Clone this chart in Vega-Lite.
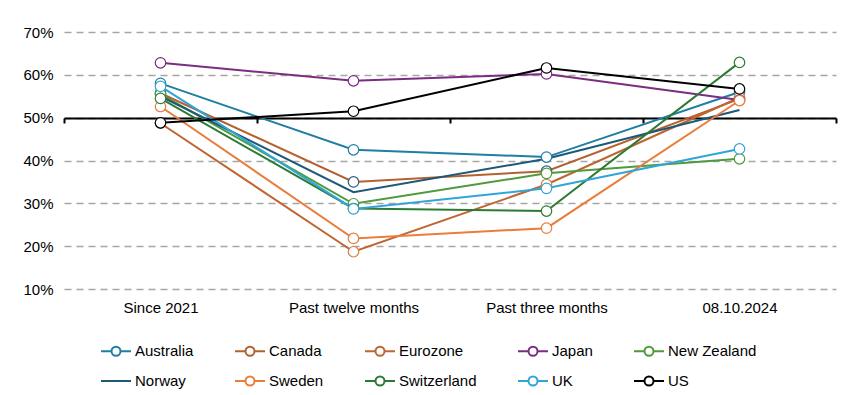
{
  "$schema": "https://vega.github.io/schema/vega-lite/v6.json",
  "width": 772,
  "height": 257,
  "autosize": {"type": "none"},
  "padding": {"left": 64, "top": 32, "right": 18, "bottom": 106},
  "background": "white",
  "config": {
    "view": {"stroke": null},
    "font": "Liberation Sans",
    "axis": {"labelFont": "Liberation Sans", "labelFontSize": 15, "labelColor": "#000000", "title": null},
    "legend": {"labelFont": "Liberation Sans", "labelFontSize": 15, "labelColor": "#000000"}
  },
  "data": {
    "values": [
      {"country": "Australia", "period": "Since 2021", "value": 58.0},
      {"country": "Australia", "period": "Past twelve months", "value": 42.5},
      {"country": "Australia", "period": "Past three months", "value": 40.8},
      {"country": "Australia", "period": "08.10.2024", "value": 56.0},
      {"country": "Canada", "period": "Since 2021", "value": 55.7},
      {"country": "Canada", "period": "Past twelve months", "value": 35.0},
      {"country": "Canada", "period": "Past three months", "value": 37.5},
      {"country": "Canada", "period": "08.10.2024", "value": 54.4},
      {"country": "Eurozone", "period": "Since 2021", "value": 48.7},
      {"country": "Eurozone", "period": "Past twelve months", "value": 18.7},
      {"country": "Eurozone", "period": "Past three months", "value": 34.4},
      {"country": "Eurozone", "period": "08.10.2024", "value": 54.7},
      {"country": "Japan", "period": "Since 2021", "value": 62.8},
      {"country": "Japan", "period": "Past twelve months", "value": 58.6},
      {"country": "Japan", "period": "Past three months", "value": 60.2},
      {"country": "Japan", "period": "08.10.2024", "value": 54.1},
      {"country": "New Zealand", "period": "Since 2021", "value": 55.5},
      {"country": "New Zealand", "period": "Past twelve months", "value": 29.9},
      {"country": "New Zealand", "period": "Past three months", "value": 37.0},
      {"country": "New Zealand", "period": "08.10.2024", "value": 40.4},
      {"country": "Norway", "period": "Since 2021", "value": 55.0},
      {"country": "Norway", "period": "Past twelve months", "value": 32.6},
      {"country": "Norway", "period": "Past three months", "value": 40.4},
      {"country": "Norway", "period": "08.10.2024", "value": 51.8},
      {"country": "Sweden", "period": "Since 2021", "value": 52.6},
      {"country": "Sweden", "period": "Past twelve months", "value": 21.8},
      {"country": "Sweden", "period": "Past three months", "value": 24.2},
      {"country": "Sweden", "period": "08.10.2024", "value": 54.0},
      {"country": "Switzerland", "period": "Since 2021", "value": 54.5},
      {"country": "Switzerland", "period": "Past twelve months", "value": 28.8},
      {"country": "Switzerland", "period": "Past three months", "value": 28.2},
      {"country": "Switzerland", "period": "08.10.2024", "value": 62.9},
      {"country": "UK", "period": "Since 2021", "value": 57.3},
      {"country": "UK", "period": "Past twelve months", "value": 28.7},
      {"country": "UK", "period": "Past three months", "value": 33.5},
      {"country": "UK", "period": "08.10.2024", "value": 42.7},
      {"country": "US", "period": "Since 2021", "value": 48.8},
      {"country": "US", "period": "Past twelve months", "value": 51.5},
      {"country": "US", "period": "Past three months", "value": 61.6},
      {"country": "US", "period": "08.10.2024", "value": 56.7}
    ]
  },
  "encoding": {
    "x": {
      "field": "period",
      "type": "ordinal",
      "sort": ["Since 2021", "Past twelve months", "Past three months", "08.10.2024"],
      "scale": {"type": "band", "paddingInner": 0, "paddingOuter": 0},
      "bandPosition": 0.5,
      "axis": {
        "orient": "bottom",
        "offset": -171,
        "domain": true,
        "domainColor": "#000000",
        "domainWidth": 2,
        "ticks": true,
        "tickBand": "extent",
        "tickColor": "#000000",
        "tickWidth": 2,
        "tickSize": 5,
        "labelPadding": 177,
        "labelAngle": 0,
        "grid": false
      }
    },
    "y": {
      "field": "value",
      "type": "quantitative",
      "scale": {"domain": [10, 70], "nice": false, "zero": false},
      "axis": {
        "values": [10, 20, 30, 40, 50, 60, 70],
        "labelExpr": "datum.value + '%'",
        "domain": false,
        "ticks": false,
        "labelPadding": 11,
        "grid": true,
        "gridColor": "#A6A6A6",
        "gridWidth": 1.5,
        "gridDash": [7, 5]
      }
    }
  },
  "layer": [
    {
      "mark": {"type": "line", "strokeWidth": 2},
      "encoding": {
        "stroke": {
          "field": "country",
          "type": "nominal",
          "scale": {
            "domain": ["Australia", "Canada", "Eurozone", "Japan", "New Zealand", "Norway", "Sweden", "Switzerland", "UK", "US"],
            "range": ["#1F7EA1", "#B5612F", "#BF6532", "#7B2D83", "#4E9A3C", "#1E5878", "#E97D3C", "#2D7A34", "#2FA5D8", "#000000"]
          },
          "legend": {
            "title": null,
            "orient": "none",
            "legendX": 36,
            "legendY": 303,
            "direction": "horizontal",
            "columns": 5,
            "columnPadding": 37,
            "rowPadding": 5,
            "gridAlign": "each",
            "symbolType": "M-1,0H-0.3M0.3,0H1M0.3,0A0.3,0.3,0,1,1,-0.3,0A0.3,0.3,0,1,1,0.3,0",
            "symbolSize": 900,
            "symbolStrokeWidth": 2,
            "symbolFillColor": "white",
            "labelOffset": 3,
            "encode": {
              "symbols": {
                "update": {
                  "shape": {"signal": "datum.value === 'Norway' ? 'M-1,0H1' : 'M-1,0H-0.3M0.3,0H1M0.3,0A0.3,0.3,0,1,1,-0.3,0A0.3,0.3,0,1,1,0.3,0'"}
                }
              }
            }
          }
        }
      }
    },
    {
      "transform": [{"filter": "datum.country !== 'Norway'"}],
      "mark": {"type": "point", "shape": "circle", "filled": false, "fill": "white", "fillOpacity": 1, "opacity": 1, "size": 110, "strokeWidth": 1.2},
      "encoding": {
        "stroke": {
          "condition": [
            {"test": "datum.country === 'Canada'", "value": "#2E5F7E"},
            {"test": "datum.country === 'Eurozone'", "value": "#DB7A40"}
          ],
          "field": "country",
          "type": "nominal"
        }
      }
    }
  ]
}
